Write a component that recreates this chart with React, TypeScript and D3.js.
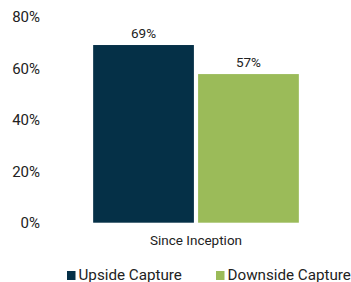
import React from 'react';
import * as d3 from 'd3';

const categories = ['Since Inception'];
const seriesNames = ['Upside Capture', 'Downside Capture'];
const seriesValues = [[69.1], [57.8]];
const seriesColors = ['#053047', '#9bbb59'];
const yTicks = [0, 20, 40, 60, 80];

const W = 351;
const H = 282;
const margin = { top: 17, right: 7, bottom: 59.3, left: 48 };
const font = 'Roboto, "Noto Sans", sans-serif';

export default function App() {
    const y = d3.scaleLinear().domain([0, 80]).range([H - margin.bottom, margin.top]);
    const x0 = d3.scaleBand().domain(categories).range([margin.left, W - margin.right]).padding(0.18);
    const x1 = d3.scaleBand().domain(seriesNames).range([0, x0.bandwidth()]).paddingInner(0.04);
    const pct = (v: number) => `${Math.floor(v)}%`;

    // legend items: swatch + label
    const legend = [
        { name: seriesNames[0], color: seriesColors[0], x: 67 },
        { name: seriesNames[1], color: seriesColors[1], x: 216 }
    ];

    return (
        <svg width={W} height={H} style={{ position: 'absolute', left: 0, top: 0 }} fontFamily={font}>
            <rect width={W} height={H} fill="#fff" />
            {yTicks.map(t => (
                <text key={t} x={40} y={y(t)} dy="0.35em" textAnchor="end" fontSize={15} fill="#222">
                    {t}%
                </text>
            ))}
            {categories.map((c, ci) => (
                <g key={c} transform={`translate(${x0(c)},0)`}>
                    {seriesNames.map((s, si) => {
                        const v = seriesValues[si][ci];
                        const bx = x1(s) as number;
                        return (
                            <g key={s}>
                                <rect x={bx} y={y(v)} width={x1.bandwidth()} height={y(0) - y(v)} fill={seriesColors[si]} />
                                <text x={bx + x1.bandwidth() / 2} y={y(v) - 7} textAnchor="middle" fontSize={13.5} fill="#222">
                                    {pct(v)}
                                </text>
                            </g>
                        );
                    })}
                    <text x={x0.bandwidth() / 2} y={y(0) + 22.5} textAnchor="middle" fontSize={13.5} fill="#222">
                        {c}
                    </text>
                </g>
            ))}
            {legend.map(l => (
                <g key={l.name} transform={`translate(${l.x},0)`}>
                    <rect x={0} y={271} width={8.5} height={9} fill={l.color} />
                    <text x={11.5} y={279.5} fontSize={15.2} fill="#222">{l.name}</text>
                </g>
            ))}
        </svg>
    );
}
